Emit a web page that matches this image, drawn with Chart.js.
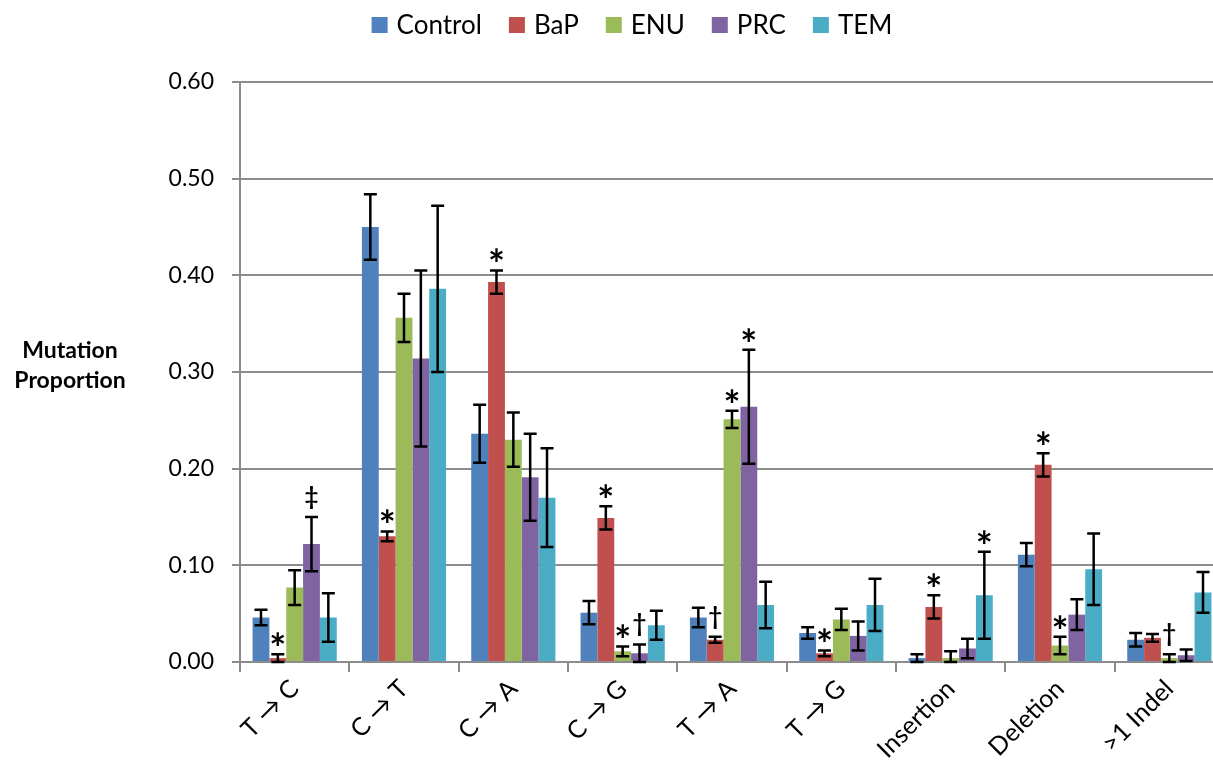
<!DOCTYPE html>
<html>
<head>
<meta charset="utf-8">
<script src="https://cdn.jsdelivr.net/npm/chart.js@4.4.1/dist/chart.umd.min.js"></script>
<style>
    html, body { margin: 0; padding: 0; background: #fff; overflow: hidden; }
    #wrap { position: absolute; left: 0; top: 0; width: 1226px; height: 767px; }
</style>
</head>
<body>
<div id="wrap"><canvas id="mutChart"></canvas></div>
<script>
// Categorias y valores
var categories = ['T \u2192 C', 'C \u2192 T', 'C \u2192 A', 'C \u2192 G', 'T \u2192 A', 'T \u2192 G', 'Insertion', 'Deletion', '>1 Indel'];
var yTicks = [0, 0.1, 0.2, 0.3, 0.4, 0.5, 0.6];

var control    = [0.046, 0.450, 0.236, 0.051, 0.046, 0.030, 0.004, 0.111, 0.023];
var controlErr = [0.008, 0.034, 0.030, 0.012, 0.010, 0.006, 0.004, 0.012, 0.007];
var bap        = [0.004, 0.130, 0.393, 0.149, 0.023, 0.009, 0.057, 0.204, 0.025];
var bapErr     = [0.004, 0.005, 0.012, 0.012, 0.003, 0.003, 0.012, 0.012, 0.004];
var enu        = [0.077, 0.356, 0.230, 0.011, 0.251, 0.044, 0.004, 0.017, 0.004];
var enuErr     = [0.018, 0.025, 0.028, 0.005, 0.009, 0.011, 0.007, 0.009, 0.004];
var prc        = [0.122, 0.314, 0.191, 0.009, 0.264, 0.027, 0.014, 0.049, 0.007];
var prcErr     = [0.028, 0.091, 0.045, 0.009, 0.059, 0.015, 0.010, 0.016, 0.006];
var tem        = [0.046, 0.386, 0.170, 0.038, 0.059, 0.059, 0.069, 0.096, 0.072];
var temErr     = [0.025, 0.086, 0.051, 0.015, 0.024, 0.027, 0.045, 0.037, 0.021];

// Marcas de significancia
var controlMarks = ['', '', '', '', '', '', '', '', ''];
var bapMarks     = ['*', '*', '*', '*', '\u2020', '*', '*', '*', ''];
var enuMarks     = ['', '', '', '*', '*', '', '', '*', '\u2020'];
var prcMarks     = ['\u2021', '', '', '\u2020', '*', '', '', '', ''];
var temMarks     = ['', '', '', '', '', '', '*', '', ''];

var FONT = 'Lato, "Open Sans", sans-serif';
var GRID = '#8c8c8c';

// Barras de error y marcas
var errorBarPlugin = {
    id: 'errorBars',
    afterDatasetsDraw: function(chart) {
        var ctx = chart.ctx, y = chart.scales.y;
        ctx.save();
        chart.data.datasets.forEach(function(ds, i) {
            var meta = chart.getDatasetMeta(i);
            meta.data.forEach(function(bar, j) {
                var v = ds.data[j], e = ds.errors[j];
                var top = y.getPixelForValue(v + e);
                var bot = y.getPixelForValue(Math.max(v - e, 0));
                ctx.strokeStyle = '#000';
                ctx.lineWidth = 2.5;
                ctx.beginPath();
                ctx.moveTo(bar.x, top); ctx.lineTo(bar.x, bot);
                ctx.moveTo(bar.x - 6.5, top); ctx.lineTo(bar.x + 6.5, top);
                ctx.moveTo(bar.x - 6.5, bot); ctx.lineTo(bar.x + 6.5, bot);
                ctx.stroke();
                var m = ds.marks[j];
                if (m) {
                    ctx.fillStyle = '#000';
                    ctx.textAlign = 'center';
                    ctx.textBaseline = 'middle';
                    if (m === '*') {
                        ctx.font = 'bold 40px ' + FONT;
                        ctx.fillText(m, bar.x, top - 13 + 9);
                    } else {
                        ctx.font = 'bold 24px ' + FONT;
                        ctx.fillText(m, bar.x, top - 20);
                    }
                }
            });
        });
        ctx.restore();
    }
};

// Leyenda y titulo del eje Y
var textPlugin = {
    id: 'extraText',
    afterDraw: function(chart) {
        var ctx = chart.ctx;
        ctx.save();
        ctx.font = '26px ' + FONT;
        var box = 16, gap = 9, sep = 27;
        var total = 0;
        chart.data.datasets.forEach(function(ds, i) {
            total += box + gap + ctx.measureText(ds.label).width + (i ? sep : 0);
        });
        var x = 632 - total / 2, yc = 25;
        ctx.textBaseline = 'middle';
        ctx.textAlign = 'left';
        chart.data.datasets.forEach(function(ds) {
            ctx.fillStyle = ds.backgroundColor;
            ctx.fillRect(x, yc - 8, box, box);
            x += box + gap;
            ctx.fillStyle = '#000';
            ctx.fillText(ds.label, x, yc + 1);
            x += ctx.measureText(ds.label).width + sep;
        });

        ctx.font = 'bold 23px ' + FONT;
        ctx.textAlign = 'center';
        ctx.fillText('Mutation', 70, 351);
        ctx.fillText('Proportion', 70, 381);
        ctx.restore();
    }
};

var ctx = document.getElementById('mutChart').getContext('2d');
var mutChart = new Chart(ctx, {
    type: 'bar',
    data: {
        labels: categories,
        datasets: [
            { label: 'Control', data: control, errors: controlErr, marks: controlMarks, backgroundColor: '#4F81BD' },
            { label: 'BaP', data: bap, errors: bapErr, marks: bapMarks, backgroundColor: '#C0504D' },
            { label: 'ENU', data: enu, errors: enuErr, marks: enuMarks, backgroundColor: '#9BBB59' },
            { label: 'PRC', data: prc, errors: prcErr, marks: prcMarks, backgroundColor: '#8064A2' },
            { label: 'TEM', data: tem, errors: temErr, marks: temMarks, backgroundColor: '#4BACC6' }
        ]
    },
    options: {
        responsive: true,
        maintainAspectRatio: false,
        animation: false,
        layout: { padding: { top: 82, right: 2, left: 0, bottom: 0 } },
        datasets: { bar: { categoryPercentage: 0.77, barPercentage: 1.0 } },
        plugins: {
            legend: { display: false },
            tooltip: { enabled: false }
        },
        scales: {
            x: {
                offset: true,
                afterFit: function(s) { s.height = 105; },
                grid: { offset: true, drawOnChartArea: false, drawTicks: true, tickLength: 10, color: GRID, lineWidth: 2 },
                border: { display: true, color: GRID, width: 2 },
                ticks: {
                    minRotation: 45, maxRotation: 45, autoSkip: false,
                    color: '#000', padding: 2,
                    font: { family: FONT, size: 25 }
                }
            },
            y: {
                min: 0, max: 0.6,
                afterFit: function(s) { s.width = 240; },
                afterBuildTicks: function(s) { s.ticks = yTicks.map(function(v) { return { value: v }; }); },
                grid: { color: GRID, lineWidth: 2, tickLength: 8 },
                border: { display: true, color: GRID, width: 2 },
                ticks: {
                    color: '#000', padding: 18,
                    font: { family: FONT, size: 23 },
                    callback: function(v) { return Number(v).toFixed(2); }
                }
            }
        }
    },
    plugins: [errorBarPlugin, textPlugin]
});
</script>
</body>
</html>
